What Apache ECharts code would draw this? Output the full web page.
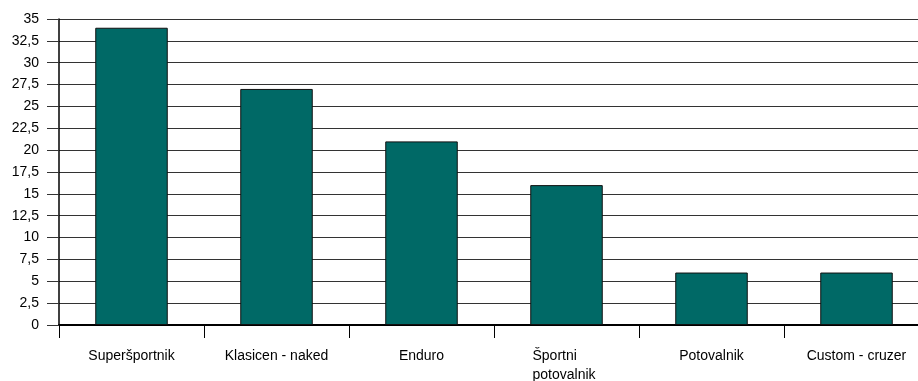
<!DOCTYPE html>
<html>
<head>
<meta charset="utf-8">
<script src="https://cdn.jsdelivr.net/npm/echarts@6/dist/echarts.min.js"></script>
<style>
  html, body { margin: 0; padding: 0; background: #fff; }
  #chart { width: 918px; height: 381px; }
</style>
</head>
<body>
<div id="chart"></div>
<script>
// Motorcycle types and their counts
const categories = ['Superšportnik', 'Klasicen - naked', 'Enduro', 'Športni\npotovalnik', 'Potovalnik', 'Custom - cruzer'];
const counts = [34, 27, 21, 16, 6, 6];
const yTicks = { min: 0, max: 35, step: 2.5 };

const chart = echarts.init(document.getElementById('chart'), null, { renderer: 'canvas' });

const font = 'Liberation Sans, Arial, sans-serif';

chart.setOption({
  animation: false,
  backgroundColor: '#ffffff',
  // the plot runs past the right edge of the canvas, so keep it unclamped
  grid: { left: 59, top: 19, width: 870, height: 306, containLabel: false, outerBoundsMode: 'none' },
  xAxis: {
    type: 'category',
    data: categories,
    axisLine: { show: true, lineStyle: { color: '#000', width: 2 } },
    axisTick: { show: true, length: 13, lineStyle: { color: '#000', width: 1 } },
    axisLabel: {
      margin: 22,
      interval: 0,
      color: '#000',
      fontFamily: font,
      fontSize: 14,
      formatter: function (v) {
        if (v.indexOf('\n') >= 0) {
          // wrapped names: lines share a left edge
          return v.split('\n').map(function (s) { return '{l|' + s + '}'; }).join('\n');
        }
        return '{c|' + v + '}';
      },
      rich: {
        c: { fontFamily: font, fontSize: 14, color: '#000', lineHeight: 19 },
        l: { width: 68, align: 'left', fontFamily: font, fontSize: 14, color: '#000', lineHeight: 19 }
      }
    }
  },
  yAxis: {
    type: 'value',
    min: yTicks.min,
    max: yTicks.max,
    interval: yTicks.step,
    axisLine: { show: true, lineStyle: { color: '#000', width: 1.5 } },
    axisTick: { show: true, length: 12, lineStyle: { color: '#333', width: 1 } },
    splitLine: { show: true, lineStyle: { color: '#333', width: 1 } },
    axisLabel: {
      margin: 20,
      color: '#000',
      fontFamily: font,
      fontSize: 14,
      formatter: function (v) { return String(v).replace('.', ','); }
    }
  },
  series: [{
    type: 'bar',
    data: counts,
    barWidth: '50%',
    itemStyle: { color: '#006966', borderColor: '#111', borderWidth: 1 }
  }]
});
</script>
</body>
</html>
